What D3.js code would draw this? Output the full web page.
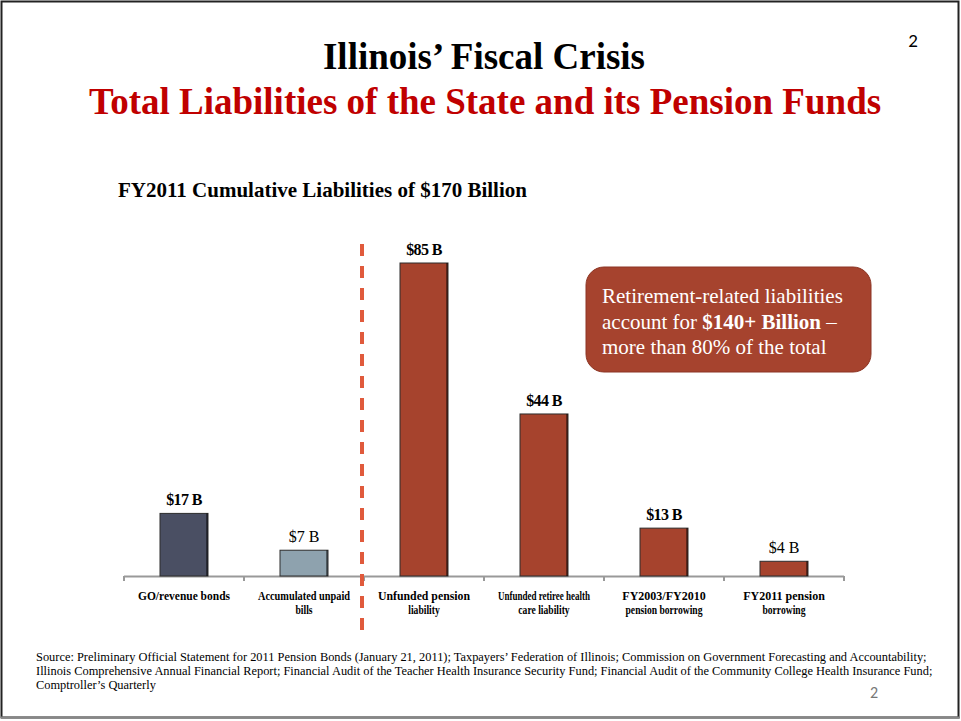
<!DOCTYPE html>
<html>
<head>
<meta charset="utf-8">
<script src="https://cdn.jsdelivr.net/npm/d3@7"></script>
<style>
  body { margin: 0; background: #fff; }
  svg { display: block; }
</style>
</head>
<body>
<svg id="chart" width="961" height="721"></svg>
<script>
(function () {
  'use strict';

  // chart data
  var categories = ['go', 'bills', 'pension', 'retiree', 'borrow0310', 'borrow11'];
  var categoryLines = [
    ['GO/revenue bonds'],
    ['Accumulated unpaid', 'bills'],
    ['Unfunded pension', 'liability'],
    ['Unfunded retiree health', 'care liability'],
    ['FY2003/FY2010', 'pension borrowing'],
    ['FY2011 pension', 'borrowing']
  ];
  var values = [17, 7, 85, 44, 13, 4];
  var valueLabels = ['$17 B', '$7 B', '$85 B', '$44 B', '$13 B', '$4 B'];
  var labelBold = [true, false, true, true, true, false];
  var barColors = ['#4a4f63', '#8ea2ae', '#a6432d', '#a6432d', '#a6432d', '#a6432d'];

  var footLines = [
    'Source: Preliminary Official Statement for 2011 Pension Bonds (January 21, 2011); Taxpayers\u2019 Federation of Illinois; Commission on Government Forecasting and Accountability;',
    'Illinois Comprehensive Annual Financial Report; Financial Audit of the Teacher Health Insurance Security Fund; Financial Audit of the Community College Health Insurance Fund;',
    'Comptroller\u2019s Quarterly'
  ];

  var svg = d3.select('#chart');
  var serif = '"Liberation Serif", "Times New Roman", serif';

  // slide frame
  svg.append('rect')
    .attr('x', 1.5).attr('y', 1.5)
    .attr('width', 957).attr('height', 716)
    .attr('fill', '#fff')
    .attr('stroke', '#222').attr('stroke-width', 2);
  svg.append('line')
    .attr('x1', 1).attr('x2', 960).attr('y1', 717.5).attr('y2', 717.5)
    .attr('stroke', '#888').attr('stroke-width', 2);

  // titles
  svg.append('text')
    .attr('x', 484).attr('y', 69)
    .attr('text-anchor', 'middle')
    .style('font', 'bold 37px ' + serif)
    .attr('fill', '#000')
    .text('Illinois\u2019 Fiscal Crisis');
  svg.append('text')
    .attr('x', 485).attr('y', 114)
    .attr('text-anchor', 'middle')
    .style('font', 'bold 37px ' + serif)
    .attr('fill', '#c00000')
    .text('Total Liabilities of the State and its Pension Funds');
  svg.append('text')
    .attr('x', 913).attr('y', 47)
    .attr('text-anchor', 'middle')
    .style('font', '19px Carlito, "Open Sans", sans-serif')
    .attr('fill', '#000')
    .text('2');

  svg.append('text')
    .attr('x', 118).attr('y', 197)
    .style('font', 'bold 21px ' + serif)
    .attr('fill', '#000')
    .text('FY2011 Cumulative Liabilities of $170 Billion');

  // scales
  var baseY = 576;
  var x = d3.scaleBand().domain(categories).range([124, 844]).paddingInner(0.6).paddingOuter(0.3);
  var step = x.step();
  var y = d3.scaleLinear().domain([0, 85]).range([baseY, 263]);

  var g = svg.append('g');

  // baseline with category ticks
  g.append('line')
    .attr('x1', 124).attr('x2', 844)
    .attr('y1', baseY + 0.5).attr('y2', baseY + 0.5)
    .attr('stroke', '#999').attr('stroke-width', 2);
  var tickX = d3.range(categories.length + 1).map(function (i) { return 124 + i * step; });
  g.selectAll('.tick').data(tickX).enter().append('line')
    .attr('x1', function (d) { return d; }).attr('x2', function (d) { return d; })
    .attr('y1', baseY).attr('y2', baseY + 5)
    .attr('stroke', '#999').attr('stroke-width', 2);

  // bars
  var bars = g.selectAll('.bar').data(values).enter().append('g');
  bars.append('rect')
    .attr('x', function (d, i) { return x(categories[i]); })
    .attr('y', function (d) { return y(d); })
    .attr('width', x.bandwidth())
    .attr('height', function (d) { return baseY - y(d); })
    .attr('fill', function (d, i) { return barColors[i]; })
    .attr('stroke', '#2d2d2d').attr('stroke-width', 1);
  bars.append('rect')
    .attr('x', function (d, i) { return x(categories[i]) + x.bandwidth() - 2; })
    .attr('y', function (d) { return y(d); })
    .attr('width', 2)
    .attr('height', function (d) { return baseY - y(d); })
    .attr('fill', 'rgba(0,0,0,0.45)');

  // value labels
  g.selectAll('.val').data(values).enter().append('text')
    .attr('x', function (d, i) { return x(categories[i]) + x.bandwidth() / 2; })
    .attr('y', function (d) { return y(d) - 8; })
    .attr('text-anchor', 'middle')
    .style('font', function (d, i) { return (labelBold[i] ? 'bold ' : '') + '16px ' + serif; })
    .style('letter-spacing', function (d, i) { return labelBold[i] ? '-0.6px' : null; })
    .attr('fill', '#000')
    .text(function (d, i) { return valueLabels[i]; });

  // category labels (squeezed like the source)
  categoryLines.forEach(function (lines, i) {
    var cx = x(categories[i]) + x.bandwidth() / 2;
    lines.forEach(function (line, j) {
      var t = g.append('text')
        .attr('x', cx).attr('y', 600 + j * 14)
        .attr('text-anchor', 'middle')
        .style('font', 'bold 12px ' + serif)
        .attr('fill', '#000')
        .text(line);
      var w = t.node().getComputedTextLength();
      var target = j === 0 ? 92 : Math.min(w * 0.8, 92);
      if (w > target) t.attr('textLength', target).attr('lengthAdjust', 'spacingAndGlyphs');
    });
  });

  // dashed divider between state debt and retirement liabilities
  var divX = 124 + 2 * step - 2;
  g.append('line')
    .attr('x1', divX).attr('x2', divX)
    .attr('y1', 244).attr('y2', 632)
    .attr('stroke', '#e05a3c').attr('stroke-width', 4)
    .attr('stroke-dasharray', '12,10');

  // callout box
  var box = svg.append('g').attr('transform', 'translate(586,267)');
  box.append('rect')
    .attr('width', 285).attr('height', 105)
    .attr('rx', 18).attr('ry', 18)
    .attr('fill', '#a6432e')
    .attr('stroke', '#8c3524').attr('stroke-width', 1);
  var calloutText = box.append('text')
    .style('font', '21px ' + serif)
    .attr('fill', '#fff');
  calloutText.append('tspan').attr('x', 16).attr('y', 36).text('Retirement-related liabilities');
  var l2 = calloutText.append('tspan').attr('x', 16).attr('y', 62);
  l2.append('tspan').text('account for ');
  l2.append('tspan').style('font-weight', 'bold').text('$140+ Billion');
  l2.append('tspan').text(' \u2013');
  calloutText.append('tspan').attr('x', 16).attr('y', 87).text('more than 80% of the total');

  // footnote
  svg.selectAll('.foot').data(footLines).enter().append('text')
    .attr('x', 36)
    .attr('y', function (d, i) { return 661 + i * 14; })
    .style('font', '12.4px ' + serif)
    .attr('fill', '#000')
    .text(function (d) { return d; });
  svg.append('text')
    .attr('x', 874).attr('y', 698)
    .attr('text-anchor', 'middle')
    .style('font', '16px Carlito, "Open Sans", sans-serif')
    .attr('fill', '#777')
    .text('2');
}());
</script>
</body>
</html>
